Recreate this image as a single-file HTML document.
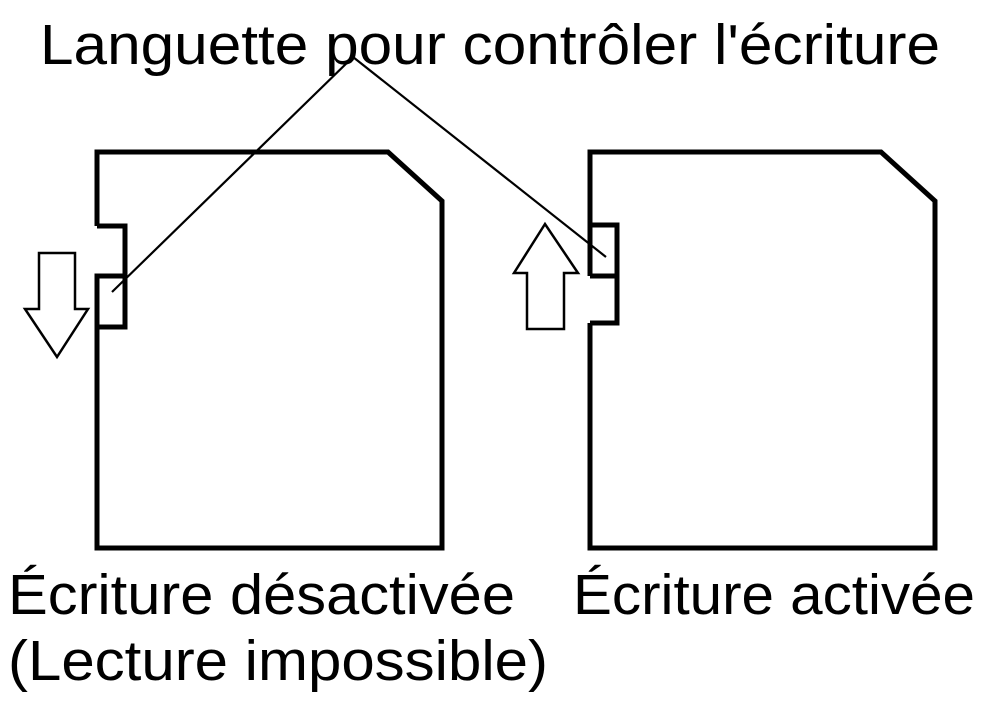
<!DOCTYPE html>
<html><head><meta charset="utf-8"><style>html,body{margin:0;padding:0;background:#fff}svg{display:block}</style></head>
<body>
<svg width="984" height="702" viewBox="0 0 984 702" xmlns="http://www.w3.org/2000/svg" font-family="Liberation Sans, Arial, sans-serif">
<rect width="984" height="702" fill="#fff"/>
<g fill="none" stroke="#000" stroke-width="5" stroke-linejoin="miter">
<path d="M97 226 V152 H388 L442 201 V548 H97 V327"/>
<path d="M97 226 H125 V327 H97 V276 H125"/>
<path d="M590 225 V152 H881 L935 201 V548 H590 V323"/>
<path d="M590 276 V225 H617 V323 H590"/>
<path d="M590 276 H617"/>
</g>
<g fill="#fff" stroke="#000" stroke-width="2.5">
<path d="M39 253 H75 V309 H88 L57 357 L25 309 H39 Z"/>
<path d="M527 329 V273 H514 L545 224 L578 273 H564 V329 Z"/>
</g>
<g stroke="#000" stroke-width="2.2">
<line x1="353" y1="57" x2="112" y2="292"/>
<line x1="353" y1="57" x2="606" y2="257"/>
</g>
<g font-size="57" fill="#000">
<text x="40" y="64" textLength="900" lengthAdjust="spacingAndGlyphs">Languette pour contrôler l'écriture</text>
<text x="8" y="614" textLength="507" lengthAdjust="spacingAndGlyphs">Écriture désactivée</text>
<text x="573" y="614" textLength="402" lengthAdjust="spacingAndGlyphs">Écriture activée</text>
<text x="8" y="680" textLength="540" lengthAdjust="spacingAndGlyphs">(Lecture impossible)</text>
</g>
</svg>
</body></html>
